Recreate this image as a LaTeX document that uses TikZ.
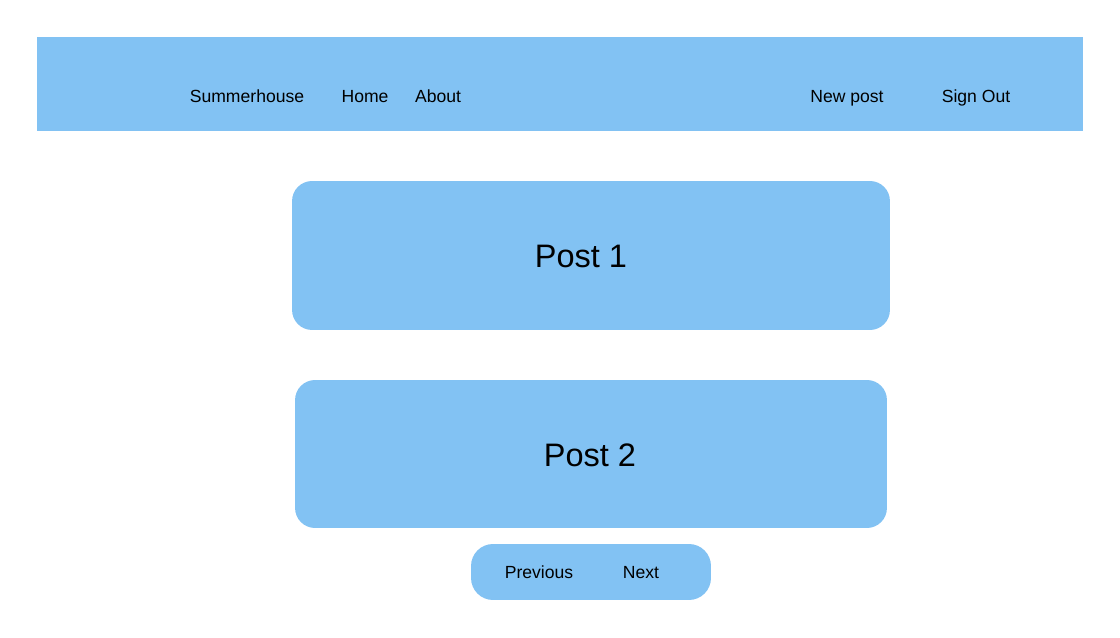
\documentclass[tikz,border=0pt]{standalone}
\usepackage{fontspec}
\setmainfont{Liberation Sans}
\usetikzlibrary{positioning}
\definecolor{skyblue}{RGB}{130,194,243}
\tikzset{
  card/.style={fill=skyblue, rounded corners=0.4cm, inner sep=0pt},
  navlink/.style={font=\fontsize{10}{12}\selectfont, inner sep=1pt, text height=1.6ex, text depth=0.4ex},
  posttitle/.style={font=\fontsize{18.5}{22}\selectfont, inner sep=1pt, text height=1.6ex, text depth=0.2ex}
}
\begin{document}
\begin{tikzpicture}[x=0.02cm, y=-0.02cm]
\useasboundingbox (0,0) rectangle (1120,638);
% header bar
\fill[skyblue] (37,37) rectangle (1083,131);
\node[navlink](brand) at (247,97){Summerhouse};
\node[navlink](home) at (365,97){Home};
\node[navlink](about) at (438,97){About};
\node[navlink](newpost) at (847,97){New post};
\node[navlink](signout) at (976,97){Sign Out};
% posts
\node[card, minimum width=11.96cm, minimum height=2.98cm](post1) at (591,255.5){};
\node[posttitle](title1) at (581,261){Post 1};
\node[card, minimum width=11.84cm, minimum height=2.96cm](post2) at (591,454){};
\node[posttitle](title2) at (590,460){Post 2};
% pager
\node[card, rounded corners=0.44cm, minimum width=4.8cm, minimum height=1.12cm](pager) at (591,572){};
\node[navlink](prev) at (539,573){Previous};
\node[navlink](next) at (641,573){Next};
\end{tikzpicture}
\end{document}
